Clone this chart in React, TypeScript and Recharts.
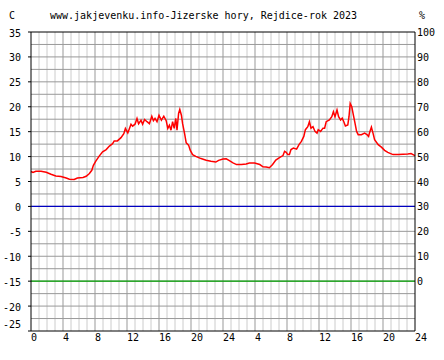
import { LineChart, Line, XAxis, YAxis, ReferenceLine } from "recharts"

const TITLE = "www.jakjevenku.info-Jizerske hory, Rejdice-rok 2023"

// hours from start of the two-day window, temperature in C
const HOURS = [
  0, 0.25, 0.6, 1.25, 1.9, 2.5, 3.1, 3.75, 4.4, 4.8, 5.4, 5.8, 6.5, 6.9, 7.3, 7.6, 7.8,
  8.1, 8.5, 8.95, 9.4, 9.8, 10.2, 10.4, 10.8, 11.25, 11.6, 11.8, 12.1, 12.5, 12.7, 13,
  13.25, 13.45, 13.75, 13.95, 14.2, 14.5, 14.8, 15.1, 15.3, 15.5, 15.75, 16, 16.3, 16.6,
  16.9, 17.1, 17.3, 17.5, 17.7, 17.9, 18.1, 18.25, 18.45, 18.6, 18.8, 18.95, 19.2, 19.4,
  19.7, 19.9, 20.2, 20.6, 21.25, 21.9, 22.5, 23.1, 23.45,
  24, 24.4, 24.8, 25.25, 25.7, 26.3, 26.9, 27.3, 27.95, 28.6, 29, 29.4, 29.8, 30.2, 30.6,
  31.1, 31.5, 31.7, 31.9, 32.1, 32.3, 32.5, 32.8, 33.2, 33.5, 33.8, 34.1, 34.3, 34.6,
  34.8, 35, 35.25, 35.5, 35.75, 35.9, 36.2, 36.5, 36.7, 36.9, 37.3, 37.6, 37.8, 38,
  38.25, 38.45, 38.7, 38.9, 39.1, 39.3, 39.6, 39.75, 39.9, 40.1, 40.25, 40.5, 40.7,
  40.9, 41.3, 41.7, 42, 42.2, 42.3, 42.55, 42.75, 42.95, 43.4, 43.8, 44.2, 44.6, 45.25,
  45.9, 46.5, 47.1, 47.5, 48,
]
const TEMPS = [
  7.0, 6.8, 7.05, 7.05, 6.85, 6.45, 6.1, 6.0, 5.7, 5.45, 5.4, 5.7, 5.8, 6.05, 6.6, 7.25, 8.25,
  9.1, 10.05, 10.95, 11.4, 12.1, 12.6, 13.15, 13.15, 13.8, 14.6, 15.65, 14.75, 16.5, 16.1, 16.5,
  17.65, 16.6, 17.3, 16.5, 17.45, 17.0, 16.6, 18.1, 17.2, 17.65, 17.0, 18.3, 17.3, 18.1,
  17.2, 15.65, 16.3, 15.3, 17.0, 15.65, 17.65, 15.3, 18.65, 19.45, 18.3, 16.6, 14.6, 12.75,
  12.3, 11.3, 10.4, 10.05, 9.6, 9.25, 9.05, 8.9, 9.25,
  9.5, 9.55, 9.2, 8.75, 8.4, 8.4, 8.5, 8.7, 8.7, 8.4, 7.95, 7.9, 7.75, 8.4, 9.3,
  9.85, 10.2, 11.05, 10.85, 10.4, 10.4, 11.4, 11.7, 11.5, 12.4, 13.05, 14.05, 15.4, 16.0,
  17.0, 15.7, 16.0, 15.05, 14.7, 15.4, 15.05, 15.7, 15.7, 17.0, 17.35, 18.0, 19.0, 18.0,
  19.35, 18.0, 17.35, 17.7, 17.0, 16.15, 16.35, 18.0, 20.65, 20.0, 18.7, 16.7, 15.05,
  14.4, 14.4, 14.7, 14.4, 14.05, 14.7, 15.9, 14.7, 13.4, 12.4, 11.9, 11.25, 10.85, 10.4,
  10.4, 10.45, 10.5, 10.6, 10.2,
]

// second series on the % axis (flat at 0 %)
const PCT_HOURS = [0, 48]
const PCT_VALUES = [0, 0]

const X_TICKS = [0, 4, 8, 12, 16, 20, 24, 28, 32, 36, 40, 44, 48]
const TEMP_TICKS = [-25, -20, -15, -10, -5, 0, 5, 10, 15, 20, 25, 30, 35]
const PCT_TICKS = [0, 10, 20, 30, 40, 50, 60, 70, 80, 90, 100]
const ZERO_LINE = 0

const GRID_TEMPS = Array.from({ length: 23 }, (_, i) => -22.5 + i * 2.5)
const GRID_HOURS = Array.from({ length: 47 }, (_, i) => i + 1)

const data = HOURS.map((h, i) => ({ h, t: TEMPS[i] }))
const pctData = PCT_HOURS.map((h, i) => ({ h, p: PCT_VALUES[i] }))

const FONT = "'DejaVu Sans Mono', monospace"

const hourLabel = (h: number) => (h === 0 ? "0" : String(h % 24 === 0 ? 24 : h % 24))

function XTick({ x, y, payload }: any) {
  return (
    <text x={x} y={y + 10} textAnchor="start" fontFamily={FONT} fontSize={10} fill="#000">
      {hourLabel(payload.value)}
    </text>
  )
}

function LeftTick({ x, y, payload }: any) {
  const dy = payload.value === -25 ? -3.5 : 4.5
  return (
    <text x={x} y={y + dy} textAnchor="end" fontFamily={FONT} fontSize={10} fill="#000">
      {payload.value}
    </text>
  )
}

function RightTick({ x, y, payload }: any) {
  return (
    <text x={x} y={y + 4} textAnchor="start" fontFamily={FONT} fontSize={10} fill="#000">
      {payload.value}
    </text>
  )
}

export default function App() {
  return (
    <div
      style={{
        position: "fixed", left: 0, top: 0, width: 444, height: 360,
        background: "#fff", fontFamily: FONT,
      }}
    >
      <span style={{ position: "absolute", left: 9, top: 10, fontSize: 10, lineHeight: "12px" }}>C</span>
      <span style={{ position: "absolute", left: 50, top: 10, fontSize: 10, lineHeight: "12px", whiteSpace: "pre" }}>
        {TITLE}
      </span>
      <span style={{ position: "absolute", left: 419, top: 10, fontSize: 10, lineHeight: "12px" }}>%</span>

      <LineChart width={444} height={360} data={data} margin={{ top: 32, right: 0, bottom: 0, left: 0 }}>
        {GRID_HOURS.map(h => (
          <ReferenceLine
            key={"v" + h}
            yAxisId="t"
            x={h}
            stroke={h % 4 === 0 ? "#999" : "#ccc"}
            strokeWidth={1}
          />
        ))}
        {GRID_TEMPS.map(v => (
          <ReferenceLine key={"g" + v} yAxisId="t" y={v} stroke="#999" strokeWidth={1} />
        ))}
        <ReferenceLine yAxisId="t" y={35} stroke="#000" strokeWidth={1} />
        <ReferenceLine yAxisId="t" y={ZERO_LINE} stroke="#0000c0" strokeWidth={1.2} />

        <XAxis
          dataKey="h"
          type="number"
          domain={[0, 48]}
          ticks={X_TICKS}
          interval={0}
          height={29}
          axisLine={{ stroke: "#000" }}
          tickLine={false}
          tickSize={0}
          tickMargin={0}
          tick={<XTick />}
        />
        <YAxis
          yAxisId="t"
          orientation="left"
          type="number"
          domain={[-25, 35]}
          ticks={TEMP_TICKS}
          interval={0}
          width={31}
          axisLine={{ stroke: "#000" }}
          tickLine={{ stroke: "#000" }}
          tickSize={3}
          tickMargin={7}
          tick={<LeftTick />}
        />
        <YAxis
          yAxisId="p"
          orientation="right"
          type="number"
          domain={[-20, 100]}
          allowDataOverflow
          ticks={PCT_TICKS}
          interval={0}
          width={29}
          axisLine={{ stroke: "#000" }}
          tickLine={false}
          tickSize={0}
          tickMargin={2}
          tick={<RightTick />}
        />
        <Line
          yAxisId="p"
          data={pctData}
          dataKey="p"
          type="linear"
          stroke="#00a000"
          strokeWidth={1.2}
          dot={false}
          isAnimationActive={false}
        />
        <Line
          yAxisId="t"
          dataKey="t"
          type="linear"
          stroke="#ff0000"
          strokeWidth={1.5}
          dot={false}
          isAnimationActive={false}
        />
      </LineChart>
    </div>
  )
}
